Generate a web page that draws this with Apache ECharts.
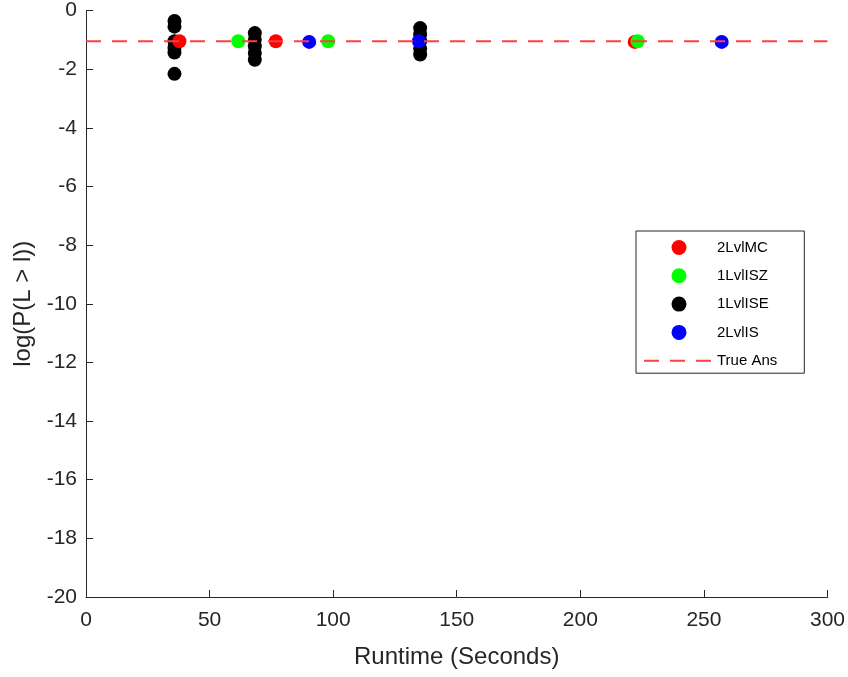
<!DOCTYPE html>
<html>
<head>
<meta charset="utf-8">
<script src="https://cdn.jsdelivr.net/npm/echarts@6/dist/echarts.min.js"></script>
<style>
  html, body { margin: 0; padding: 0; background: #fff; }
  #chart { width: 848px; height: 677px; }
</style>
</head>
<body>
<div id="chart"></div>
<script>
// Runtime (seconds) vs. log tail probability for each estimator
const seriesNames = ['2LvlMC', '1LvlISZ', '1LvlISE', '2LvlIS', 'True Ans'];

const mc2Runtime   = [37.8, 76.8, 222.0];
const mc2Estimate  = [-1.05, -1.05, -1.07];

const isz1Runtime  = [61.6, 98.0, 223.2];
const isz1Estimate = [-1.05, -1.05, -1.05];

const ise1Runtime  = [35.8, 35.8, 35.8, 35.8, 35.8, 35.8,
                      68.3, 68.3, 68.3, 68.3, 68.3,
                      135.2, 135.2, 135.2, 135.2, 135.2];
const ise1Estimate = [-0.36, -0.55, -1.05, -1.27, -1.43, -2.16,
                      -0.77, -1.0, -1.22, -1.45, -1.68,
                      -0.6, -0.82, -1.05, -1.3, -1.5];

const is2Runtime   = [90.3, 134.7, 257.2];
const is2Estimate  = [-1.07, -1.05, -1.07];

const trueAnswer = -1.05;
const xRange = [0, 300];

const xTicks = [0, 50, 100, 150, 200, 250, 300];
const yTicks = [0, -2, -4, -6, -8, -10, -12, -14, -16, -18, -20];

const pairs = (xs, ys) => xs.map((x, i) => [x, ys[i]]);

const font = 'Liberation Sans, Arial, Helvetica, sans-serif';
const axisColor = '#262626';
const dashRed = '#ff4040';

const chart = echarts.init(document.getElementById('chart'), null, { renderer: 'canvas' });

const scatter = (name, color, xs, ys, z) => ({
  name, type: 'scatter', symbol: 'circle', symbolSize: 14, z,
  itemStyle: { color, opacity: 1 },
  emphasis: { disabled: true },
  data: pairs(xs, ys)
});

chart.setOption({
  animation: false,
  backgroundColor: '#fff',
  textStyle: { fontFamily: font },
  grid: { left: 86, top: 10, right: 18, bottom: 80, containLabel: false },
  legend: {
    orient: 'vertical',
    left: 636,
    top: 231,
    padding: [9, 27, 5, 7],
    itemWidth: 70,
    itemHeight: 15,
    itemGap: 13.3,
    borderColor: '#262626',
    borderWidth: 1,
    backgroundColor: '#fff',
    data: [
      '2LvlMC', '1LvlISZ', '1LvlISE', '2LvlIS',
      { name: 'True Ans', itemStyle: { opacity: 0 } }
    ],
    textStyle: { fontFamily: font, fontSize: 15, color: '#000', padding: [0, 0, 0, -2] }
  },
  xAxis: {
    type: 'value',
    min: xRange[0],
    max: xRange[1],
    interval: 50,
    name: 'Runtime (Seconds)',
    nameLocation: 'middle',
    nameGap: 48,
    nameTextStyle: { fontFamily: font, fontSize: 24, color: axisColor },
    axisLine: { show: true, onZero: false, lineStyle: { color: axisColor, width: 1 } },
    axisTick: { show: true, inside: true, length: 7, lineStyle: { color: axisColor } },
    axisLabel: {
      fontFamily: font, fontSize: 21, color: axisColor, margin: 13,
      formatter: v => (xTicks.includes(v) ? String(v) : '')
    },
    splitLine: { show: false }
  },
  yAxis: {
    type: 'value',
    min: -20,
    max: 0,
    interval: 2,
    name: 'log(P(L > l))',
    nameLocation: 'middle',
    nameGap: 51,
    nameRotate: 90,
    nameTextStyle: { fontFamily: font, fontSize: 24, color: axisColor },
    axisLine: { show: true, onZero: false, lineStyle: { color: axisColor, width: 1 } },
    axisTick: { show: true, inside: true, length: 7, lineStyle: { color: axisColor } },
    axisLabel: {
      fontFamily: font, fontSize: 21, color: axisColor, margin: 9,
      formatter: v => (yTicks.includes(v) ? String(v) : '')
    },
    splitLine: { show: false }
  },
  series: [
    scatter('1LvlISE', '#000000', ise1Runtime, ise1Estimate, 2),
    scatter('2LvlMC', '#ff0000', mc2Runtime, mc2Estimate, 3),
    scatter('1LvlISZ', '#00ff00', isz1Runtime, isz1Estimate, 4),
    scatter('2LvlIS', '#0000ff', is2Runtime, is2Estimate, 5),
    {
      name: 'True Ans', type: 'line', symbol: 'none', showSymbol: false, z: 6,
      lineStyle: { color: dashRed, width: 2, type: [15, 11] },
      itemStyle: { color: dashRed },
      emphasis: { disabled: true },
      data: [[xRange[0], trueAnswer], [xRange[1], trueAnswer]]
    }
  ]
});
</script>
</body>
</html>
